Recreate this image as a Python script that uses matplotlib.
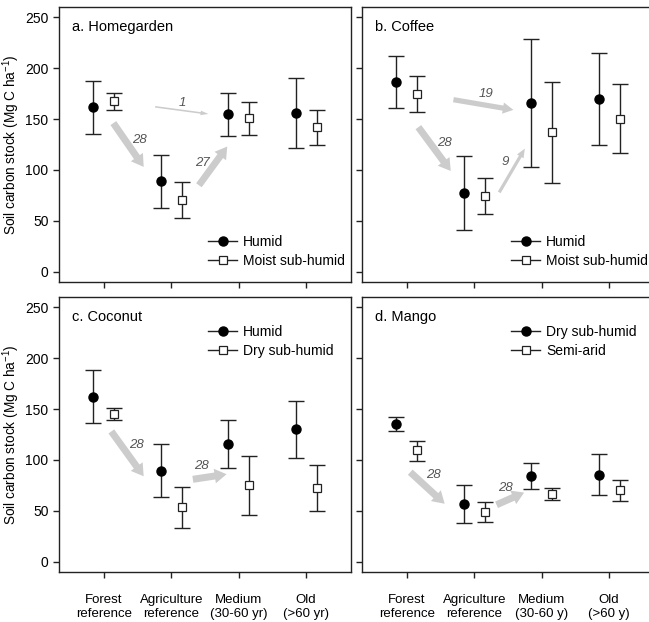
import numpy as np
import matplotlib
matplotlib.use('Agg')
import matplotlib.pyplot as plt
from matplotlib.lines import Line2D

plt.rcParams['font.family'] = ['Liberation Sans', 'DejaVu Sans']

positions = [1, 2, 3, 4]
cats_yr = ['Forest\nreference', 'Agriculture\nreference', 'Medium\n(30-60 yr)', 'Old\n(>60 yr)']
cats_y = ['Forest\nreference', 'Agriculture\nreference', 'Medium\n(30-60 y)', 'Old\n(>60 y)']

# a. Homegarden
hg_humid = [161.5, 89.2, 154.6, 155.6]
hg_humid_lo = [135.6, 63.0, 133.6, 121.6]
hg_humid_hi = [187.0, 114.7, 175.2, 190.2]
hg_moist = [167.3, 70.6, 150.7, 141.8]
hg_moist_lo = [158.5, 52.6, 134.6, 124.8]
hg_moist_hi = [175.8, 88.5, 166.3, 158.8]

# b. Coffee
cf_humid = [186.0, 77.2, 165.7, 169.7]
cf_humid_lo = [161.0, 40.7, 103.3, 124.4]
cf_humid_hi = [211.6, 113.9, 228.7, 215.0]
cf_moist = [174.9, 74.5, 136.8, 150.3]
cf_moist_lo = [157.2, 56.5, 87.3, 116.5]
cf_moist_hi = [192.6, 92.5, 186.0, 184.0]

# c. Coconut
cn_humid = [162.0, 89.3, 115.3, 130.1]
cn_humid_lo = [136.4, 63.2, 91.9, 101.8]
cn_humid_hi = [188.4, 115.3, 139.0, 158.1]
cn_dry = [145.3, 53.4, 75.1, 72.5]
cn_dry_lo = [139.3, 33.3, 46.1, 50.1]
cn_dry_hi = [151.2, 73.5, 103.8, 95.3]

# d. Mango
mg_dry = [135.4, 56.7, 84.7, 85.4]
mg_dry_lo = [128.9, 37.9, 71.5, 65.2]
mg_dry_hi = [142.0, 75.8, 97.2, 105.4]
mg_semi = [109.7, 49.1, 66.6, 70.2]
mg_semi_lo = [99.2, 39.2, 60.7, 59.3]
mg_semi_hi = [119.0, 58.7, 72.1, 80.7]

# transition arrows: start x, start y, end x, end y, count, label x, label y
hg_arrows = [(1.14, 146, 1.59, 103, 28, 1.52, 129),
             (2.41, 85, 2.83, 123, 27, 2.46, 107),
             (1.76, 162, 2.55, 155, 1, 2.17, 166)]
cf_arrows = [(1.69, 169, 2.58, 159, 19, 2.17, 175),
             (1.17, 142, 1.65, 99, 28, 1.56, 126),
             (2.37, 78, 2.75, 121, 9, 2.46, 108)]
cn_arrows = [(1.11, 128, 1.59, 84, 28, 1.48, 115),
             (2.32, 81, 2.82, 86, 28, 2.44, 94)]
mg_arrows = [(1.05, 88, 1.56, 57, 28, 1.39, 85),
             (2.33, 56, 2.74, 68, 28, 2.46, 72)]

panels = [
    ('a. Homegarden', ['Humid', 'Moist sub-humid'],
     [(hg_humid, hg_humid_lo, hg_humid_hi), (hg_moist, hg_moist_lo, hg_moist_hi)], hg_arrows, None),
    ('b. Coffee', ['Humid', 'Moist sub-humid'],
     [(cf_humid, cf_humid_lo, cf_humid_hi), (cf_moist, cf_moist_lo, cf_moist_hi)], cf_arrows, None),
    ('c. Coconut', ['Humid', 'Dry sub-humid'],
     [(cn_humid, cn_humid_lo, cn_humid_hi), (cn_dry, cn_dry_lo, cn_dry_hi)], cn_arrows, cats_yr),
    ('d. Mango', ['Dry sub-humid', 'Semi-arid'],
     [(mg_dry, mg_dry_lo, mg_dry_hi), (mg_semi, mg_semi_lo, mg_semi_hi)], mg_arrows, cats_y),
]

W, H = 649, 622
fig = plt.figure(figsize=(W / 100, H / 100), dpi=100)
boxes = [(59, 7), (362, 7), (59, 297), (362, 297)]
aw, ah = 292, 275
dark = '#222222'
styles = [dict(marker='o', ms=6.5, mfc='black', mec='black'),
          dict(marker='s', ms=5.2, mfc='white', mec=dark, mew=0.9)]
offsets = [-0.155, 0.155]

for i, (title, names, series, arrows, xlabels) in enumerate(panels):
    px, py = boxes[i]
    ax = fig.add_axes([px / W, 1 - (py + ah) / H, aw / W, ah / H])
    for j, (m, lo, hi) in enumerate(series):
        m = np.array(m); lo = np.array(lo); hi = np.array(hi)
        xs = np.array(positions) + offsets[j]
        ax.errorbar(xs, m, yerr=[m - lo, hi - m], fmt='none', ecolor=dark,
                    elinewidth=1.0, capsize=5.5, capthick=1.0, zorder=3)
        ax.plot(xs, m, ls='none', zorder=4, **styles[j])
    for x0, y0, x1, y1, n, lx, ly in arrows:
        tw = 0.1 + 0.0145 * n
        hw = 0.3 + 0.027 * n
        hl = 0.55 + 0.011 * n
        ax.annotate('', xy=(x1, y1), xytext=(x0, y0),
                    arrowprops=dict(arrowstyle=f'simple,head_length={hl},head_width={hw},tail_width={tw}',
                                    fc='#cccccc', ec='none', shrinkA=0, shrinkB=0,
                                    mutation_scale=10), zorder=1)
        ax.text(lx, ly, str(n), fontsize=9.5, style='italic', color='#555555',
                ha='center', va='center', zorder=2)
    ax.set_xlim(1 - 2 / 3, 4 + 2 / 3)
    ax.set_ylim(-10, 260)
    ax.set_yticks([0, 50, 100, 150, 200, 250])
    ax.set_xticks(positions)
    for s in ax.spines.values():
        s.set_linewidth(1.0)
        s.set_color(dark)
    ax.tick_params(direction='out', length=4, width=1.0, color=dark, labelsize=10, labelcolor='black')
    ax.tick_params(axis='x', pad=12)
    if xlabels is None:
        ax.set_xticklabels([])
    else:
        ax.set_xticklabels(xlabels, fontsize=9.5)
    if i % 2 == 0:
        ax.set_ylabel('Soil carbon stock (Mg C ha$^{\\mathregular{-1}}$)', fontsize=9.8)
        ax.yaxis.set_label_coords(-0.125, 0.5)
    else:
        ax.set_yticklabels([])
    ax.text(0.045, 0.928, title, transform=ax.transAxes, fontsize=10.5, ha='left', va='center')
    handles = [Line2D([0], [0], color=dark, lw=1.0, **styles[k]) for k in range(2)]
    ax.legend(handles, names, loc='upper left',
              bbox_to_anchor=(0.51, 0.171 if i < 2 else 0.897),
              frameon=False, fontsize=10, borderpad=0, borderaxespad=0,
              handlelength=2.1, handletextpad=0.45, labelspacing=0.35)

fig.savefig('out.png', dpi=100)
